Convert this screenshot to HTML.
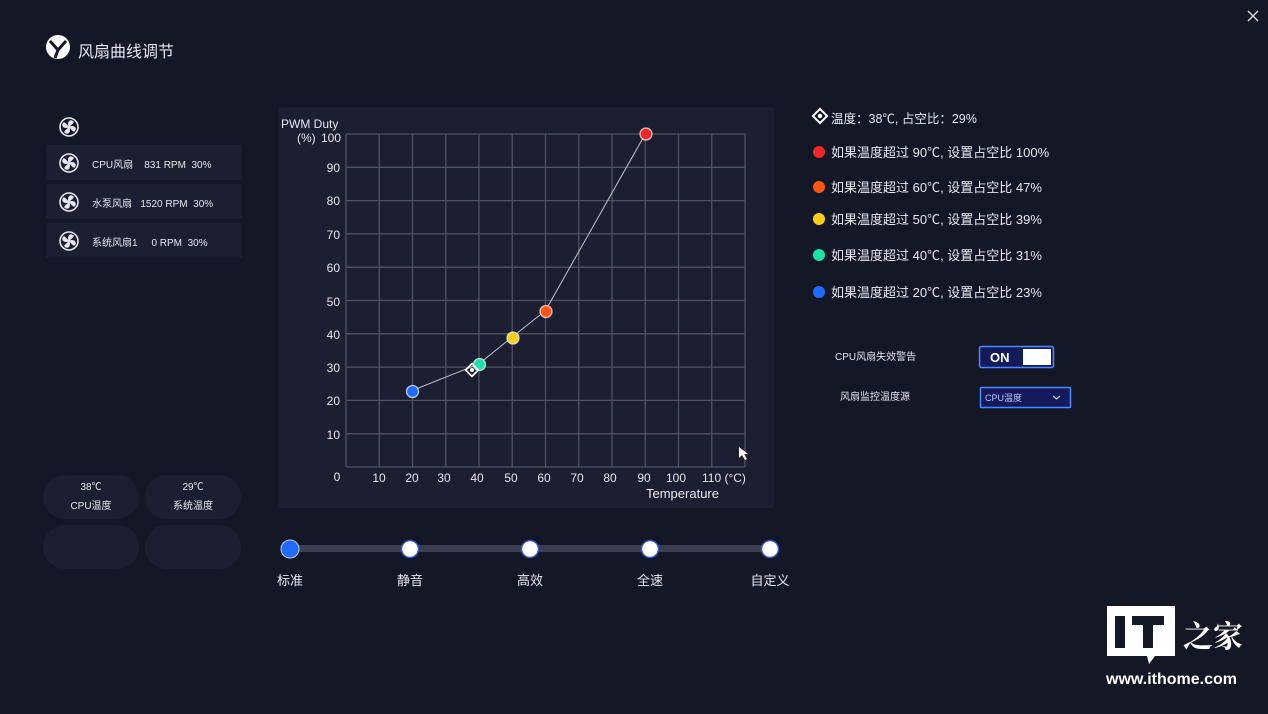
<!DOCTYPE html>
<html><head><meta charset="utf-8"><style>
body{margin:0;width:1268px;height:714px;background:#141826;overflow:hidden;font-family:"Liberation Sans","Noto Sans CJK SC",sans-serif;color:#e6e8ef;position:relative}
.a{position:absolute;white-space:nowrap}
.row{position:absolute;left:46px;width:196px;height:35px;background:#1c1f31}
.pill{position:absolute;width:96px;height:44px;border-radius:22px;background:#1c1f31;text-align:center;font-size:10px;line-height:19px;padding-top:3px;box-sizing:border-box}
.leg{position:absolute;left:813px;font-size:13px;display:flex;align-items:center}
.dot{width:12px;height:12px;border-radius:50%;margin-right:6px}
</style></head><body>
<svg width="1268" height="714" style="position:absolute;left:0;top:0" font-family="Liberation Sans, Noto Sans CJK SC, sans-serif">
<defs>
<g id="fan"><circle r="9" fill="none" stroke="#e6e8ef" stroke-width="1.6"/>
<path d="M0,-1 C-1,-6 2,-7 4,-5 C3,-3 1,-2 0,-1Z M1,0 C6,-1 7,2 5,4 C3,3 2,1 1,0Z M0,1 C1,6 -2,7 -4,5 C-3,3 -1,2 0,1Z M-1,0 C-6,1 -7,-2 -5,-4 C-3,-3 -2,-1 -1,0Z" fill="#e6e8ef" stroke="#e6e8ef" stroke-width="1.5"/></g>
</defs>
<circle cx="58" cy="47" r="12" fill="#fff"/>
<path d="M50,41 L58,50 L66,41 M58,50 L55,58" stroke="#141826" stroke-width="3" fill="none"/>
<path d="M1248,11 L1258,21 M1258,11 L1248,21" stroke="#ddd" stroke-width="1.4"/>
<use href="#fan" x="69" y="127"/>
<rect x="278" y="107" width="496" height="401" rx="4" fill="#1c1f31"/>
<g stroke="#50535f" stroke-width="1.3">
<line x1="346" y1="134" x2="745" y2="134"/><line x1="346" y1="167.3" x2="745" y2="167.3"/><line x1="346" y1="200.6" x2="745" y2="200.6"/><line x1="346" y1="233.9" x2="745" y2="233.9"/><line x1="346" y1="267.2" x2="745" y2="267.2"/><line x1="346" y1="300.5" x2="745" y2="300.5"/><line x1="346" y1="333.8" x2="745" y2="333.8"/><line x1="346" y1="367.1" x2="745" y2="367.1"/><line x1="346" y1="400.4" x2="745" y2="400.4"/><line x1="346" y1="433.7" x2="745" y2="433.7"/><line x1="346" y1="467" x2="745" y2="467"/>
<line x1="346" y1="134" x2="346" y2="467"/><line x1="379.25" y1="134" x2="379.25" y2="467"/><line x1="412.5" y1="134" x2="412.5" y2="467"/><line x1="445.75" y1="134" x2="445.75" y2="467"/><line x1="479" y1="134" x2="479" y2="467"/><line x1="512.25" y1="134" x2="512.25" y2="467"/><line x1="545.5" y1="134" x2="545.5" y2="467"/><line x1="578.75" y1="134" x2="578.75" y2="467"/><line x1="612" y1="134" x2="612" y2="467"/><line x1="645.25" y1="134" x2="645.25" y2="467"/><line x1="678.5" y1="134" x2="678.5" y2="467"/><line x1="711.75" y1="134" x2="711.75" y2="467"/><line x1="745" y1="134" x2="745" y2="467"/>
</g>
<g fill="#e6e8ef" font-size="12" text-anchor="end">
<text x="341" y="142">100</text><text x="340" y="172">90</text><text x="340" y="205">80</text><text x="340" y="239">70</text><text x="340" y="272">60</text><text x="340" y="306">50</text><text x="340" y="339">40</text><text x="340" y="372">30</text><text x="340" y="405">20</text><text x="340" y="439">10</text>
</g>
<g fill="#e6e8ef" font-size="12" text-anchor="middle">
<text x="337" y="481">0</text><text x="379" y="482">10</text><text x="412" y="482">20</text><text x="444" y="482">30</text><text x="477" y="482">40</text><text x="511" y="482">50</text><text x="544" y="482">60</text><text x="577" y="482">70</text><text x="610" y="482">80</text><text x="644" y="482">90</text><text x="676" y="482">100</text>
</g>
<text x="702" y="482" fill="#e6e8ef" font-size="12">110 (°C)</text>
<text x="646" y="498" fill="#e6e8ef" font-size="13">Temperature</text>
<text x="281" y="128" fill="#e6e8ef" font-size="12">PWM Duty</text>
<text x="297" y="142" fill="#e6e8ef" font-size="12">(%)</text>
<polyline points="412.5,390.4 479,363.8 512.3,337 545.5,310.5 645.3,134" fill="none" stroke="#bfc2cc" stroke-width="1"/>
<g stroke="#fff" stroke-opacity=".7" stroke-width="1.3">
<circle cx="412.5" cy="391.5" r="6" fill="#1f6bff"/>
<circle cx="479.5" cy="364.5" r="6" fill="#1de0a6"/>
<circle cx="513" cy="338" r="6" fill="#f7cf1a"/>
<circle cx="546" cy="311.5" r="6" fill="#ff5412"/>
<circle cx="646" cy="134" r="6" fill="#f02828"/>
</g>
<g transform="translate(472,370)"><rect x="-4.5" y="-4.5" width="9" height="9" transform="rotate(45)" fill="none" stroke="#fff" stroke-width="1.8"/><circle r="2" fill="#fff"/></g>
<path d="M739,447 L739,458 L742,455 L745,460 L747,459 L744,454 L748,454Z" fill="#fff"/>
<rect x="290" y="545" width="480" height="7" rx="3.5" fill="#3c3f52"/>
<circle cx="290" cy="549" r="9" fill="#1f6bff" stroke="#bcd" stroke-width="1"/>
<circle cx="410" cy="549" r="8.5" fill="#fff" stroke="#3355cc" stroke-width="1.5"/>
<circle cx="530" cy="549" r="8.5" fill="#fff" stroke="#3355cc" stroke-width="1.5"/>
<circle cx="650" cy="549" r="8.5" fill="#fff" stroke="#3355cc" stroke-width="1.5"/>
<circle cx="770" cy="549" r="8.5" fill="#fff" stroke="#3355cc" stroke-width="1.5"/>
<g fill="#e6e8ef" font-size="13" text-anchor="middle"><text x="290" y="585">标准</text><text x="410" y="585">静音</text><text x="530" y="585">高效</text><text x="650" y="585">全速</text><text x="770" y="585">自定义</text></g>
<g transform="translate(820,116)"><rect x="-5" y="-5" width="10" height="10" transform="rotate(45)" fill="none" stroke="#fff" stroke-width="2"/><circle r="2.2" fill="#fff"/></g>
<rect x="979.5" y="346.5" width="74" height="21" rx="2" fill="#141a5a" stroke="#4a8cff" stroke-width="1.5"/>
<rect x="1023" y="349" width="28" height="16" fill="#fff"/>
<text x="990" y="362" fill="#fff" font-size="13" font-weight="bold">ON</text>
<rect x="980.5" y="387.5" width="90" height="20" rx="1" fill="#141a5a" stroke="#4a8cff" stroke-width="1.5"/>
<text x="985" y="401" fill="#bcc8ff" font-size="9">CPU温度</text>
<path d="M1053,396 L1056.5,399 L1060,396" stroke="#ccd" fill="none" stroke-width="1.2"/>
<path d="M1107,606 h68 v50 h-20 l-6,8 l-2,-8 h-40 z" fill="#fff"/>
<rect x="1115" y="616" width="10" height="32" fill="#141826"/>
<rect x="1132" y="616" width="32" height="9" fill="#141826"/>
<rect x="1143" y="616" width="10" height="32" fill="#141826"/>
<text x="1183" y="647" fill="#fff" font-size="30" font-weight="bold" font-family="Noto Serif CJK SC, serif">之家</text>
<text x="1106" y="684" fill="#fff" font-size="16" font-weight="bold">www.ithome.com</text>
</svg>
<div class="a" style="left:78px;top:38px;font-size:16px">风扇曲线调节</div>
<div class="row" style="top:145px"></div><div class="row" style="top:184px"></div><div class="row" style="top:223px"></div>
<svg width="1268" height="714" style="position:absolute;left:0;top:0"><use href="#fan" x="69" y="163"/><use href="#fan" x="69" y="202"/><use href="#fan" x="69" y="241"/></svg>
<div class="a" style="left:92px;top:156px;font-size:10px">CPU风扇&nbsp;&nbsp;&nbsp;&nbsp;831 RPM&nbsp;&nbsp;30%</div>
<div class="a" style="left:92px;top:195px;font-size:10px">水泵风扇&nbsp;&nbsp;&nbsp;1520 RPM&nbsp;&nbsp;30%</div>
<div class="a" style="left:92px;top:234px;font-size:10px">系统风扇1&nbsp;&nbsp;&nbsp;&nbsp;&nbsp;0 RPM&nbsp;&nbsp;30%</div>
<div class="pill" style="left:43px;top:475px">38℃<br>CPU温度</div>
<div class="pill" style="left:145px;top:475px">29℃<br>系统温度</div>
<div class="pill" style="left:43px;top:525px"></div>
<div class="pill" style="left:145px;top:525px"></div>
<div class="a" style="left:831px;top:108px;font-size:12.5px">温度：38℃, 占空比：29%</div>
<div class="leg" style="top:142px"><div class="dot" style="background:#f02828"></div>如果温度超过 90℃, 设置占空比 100%</div>
<div class="leg" style="top:177px"><div class="dot" style="background:#ff5412"></div>如果温度超过 60℃, 设置占空比 47%</div>
<div class="leg" style="top:209px"><div class="dot" style="background:#f7cf1a"></div>如果温度超过 50℃, 设置占空比 39%</div>
<div class="leg" style="top:245px"><div class="dot" style="background:#1de0a6"></div>如果温度超过 40℃, 设置占空比 31%</div>
<div class="leg" style="top:282px"><div class="dot" style="background:#1f6bff"></div>如果温度超过 20℃, 设置占空比 23%</div>
<div class="a" style="left:835px;top:348px;font-size:10px">CPU风扇失效警告</div>
<div class="a" style="left:840px;top:388px;font-size:10px">风扇监控温度源</div>
</body></html>
